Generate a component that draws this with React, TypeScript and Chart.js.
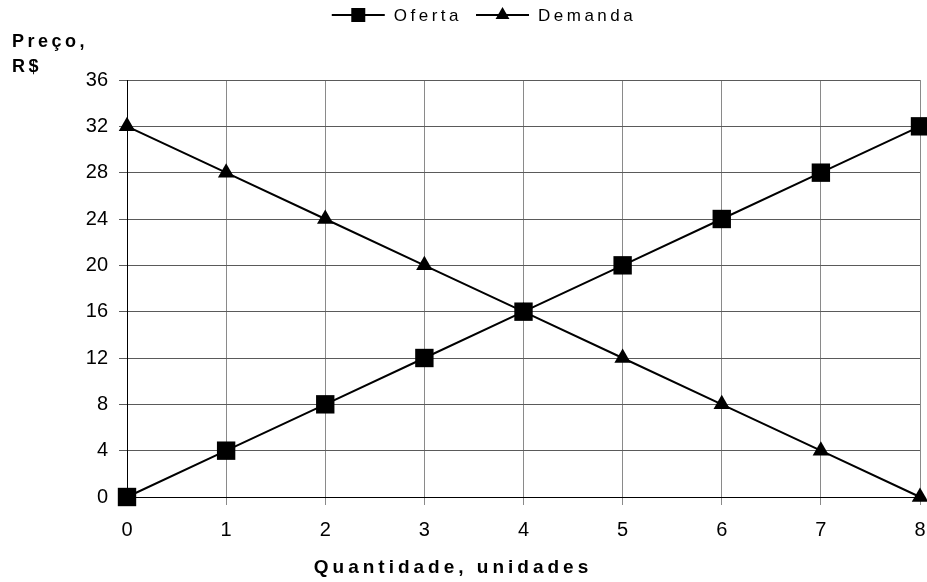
import React, { useEffect, useRef } from 'react';
import { Chart, registerables } from 'chart.js';

Chart.register(...registerables);

// ---- data ----
const quantities = ['0', '1', '2', '3', '4', '5', '6', '7', '8'];
const oferta = [0, 4, 8, 12, 16, 20, 24, 28, 32];
const demanda = [32, 28, 24, 20, 16, 12, 8, 4, 0];
const priceMin = 0;
const priceMax = 36;
const priceStep = 4;
const seriesNames = ['Oferta', 'Demanda'];
const seriesMarkers = ['rect', 'triangle'];
const yTitleLines = ['Preço,', 'R$'];
const xTitle = 'Quantidade, unidades';

const FONT = '"Liberation Sans", Arial, Helvetica, sans-serif';

export default function App() {
  const ref = useRef<HTMLCanvasElement>(null);

  useEffect(() => {
    const canvas = ref.current;
    if (!canvas) return;

    const textPlugin = {
      id: 'customText',
      afterDraw(chart: any) {
        const ctx = chart.ctx as CanvasRenderingContext2D;
        ctx.save();
        ctx.fillStyle = '#000';
        ctx.strokeStyle = '#000';

        // axis titles
        ctx.font = `bold 18px ${FONT}`;
        (ctx as any).letterSpacing = '3.5px';
        ctx.textAlign = 'left';
        ctx.textBaseline = 'alphabetic';
        ctx.fillText(yTitleLines[0], 12, 47);
        ctx.fillText(yTitleLines[1], 12, 72);

        ctx.font = `bold 19px ${FONT}`;
        (ctx as any).letterSpacing = '4px';
        const w = ctx.measureText(xTitle).width;
        ctx.textAlign = 'left';
        ctx.fillText(xTitle, 453 - w / 2, 573);

        // legend
        ctx.font = `17px ${FONT}`;
        (ctx as any).letterSpacing = '3.5px';
        ctx.textAlign = 'left';
        ctx.textBaseline = 'middle';
        const lineLen = 53;
        const gapText = 9;
        const gapItem = 14;
        const widths = seriesNames.map((n) => ctx.measureText(n).width);
        const total = widths.reduce((s, ww) => s + lineLen + gapText + ww, 0) + gapItem * (seriesNames.length - 1);
        let x = 484 - total / 2;
        const y = 15;
        seriesNames.forEach((name, i) => {
          ctx.lineWidth = 2;
          ctx.beginPath();
          ctx.moveTo(x, y);
          ctx.lineTo(x + lineLen, y);
          ctx.stroke();
          const cx = x + lineLen / 2;
          ctx.beginPath();
          if (seriesMarkers[i] === 'rect') {
            ctx.rect(cx - 7, y - 7, 14, 14);
          } else {
            const r = 8;
            ctx.moveTo(cx, y - r);
            ctx.lineTo(cx + r * 0.866, y + r / 2);
            ctx.lineTo(cx - r * 0.866, y + r / 2);
            ctx.closePath();
          }
          ctx.fill();
          ctx.fillText(name, x + lineLen + gapText, y + 1);
          x += lineLen + gapText + widths[i] + gapItem;
        });
        ctx.restore();
      },
    };

    const chart = new Chart(canvas, {
      type: 'line',
      data: {
        labels: quantities,
        datasets: [
          {
            label: seriesNames[0],
            data: oferta,
            borderColor: '#000',
            borderWidth: 2,
            backgroundColor: '#000',
            pointStyle: 'rect',
            pointRadius: 13,
            pointBorderWidth: 0,
            pointBackgroundColor: '#000',
            tension: 0,
            clip: false as any,
          },
          {
            label: seriesNames[1],
            data: demanda,
            borderColor: '#000',
            borderWidth: 2,
            backgroundColor: '#000',
            pointStyle: 'triangle',
            pointRadius: 9.5,
            pointBorderWidth: 0,
            pointBackgroundColor: '#000',
            tension: 0,
            clip: false as any,
          },
        ],
      },
      options: {
        animation: false,
        responsive: false,
        devicePixelRatio: 1,
        layout: { autoPadding: false, padding: { top: 80, right: 7, left: 0, bottom: 0 } },
        plugins: {
          legend: { display: false },
          tooltip: { enabled: false },
          title: { display: false },
        },
        scales: {
          x: {
            type: 'category',
            offset: false,
            grid: { color: '#8a8a8a', lineWidth: 1, tickLength: 8, tickColor: '#8a8a8a' },
            border: { display: true, color: '#000', width: 1 },
            ticks: {
              color: '#000',
              font: { family: FONT, size: 20 },
              padding: 13,
              maxRotation: 0,
              autoSkip: false,
            },
            afterFit(scale: any) {
              scale.height = 85;
              scale.paddingLeft = 0;
              scale.paddingRight = 0;
            },
          },
          y: {
            type: 'linear',
            min: priceMin,
            max: priceMax,
            grid: { color: '#5a5a5a', lineWidth: 1, tickLength: 8, tickColor: '#5a5a5a' },
            border: { display: true, color: '#000', width: 1 },
            ticks: {
              stepSize: priceStep,
              color: '#000',
              font: { family: FONT, size: 20 },
              padding: 11,
            },
            afterFit(scale: any) {
              scale.width = 127;
              scale.paddingTop = 0;
              scale.paddingBottom = 0;
            },
          },
        },
      },
      plugins: [textPlugin],
    });

    return () => chart.destroy();
  }, []);

  return (
    <div style={{ position: 'absolute', left: 0, top: 0, width: 927, height: 582, background: '#fff' }}>
      <canvas ref={ref} width={927} height={582} style={{ display: 'block' }} />
    </div>
  );
}
